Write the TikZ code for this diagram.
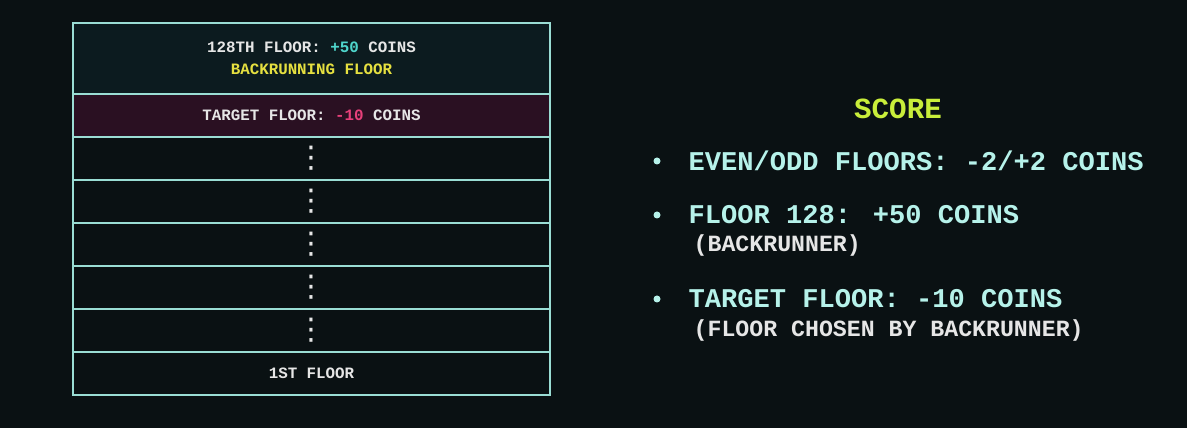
\documentclass[tikz,border=0pt]{standalone}
\usepackage{fontspec}
\setmainfont{Liberation Mono}
\newfontfamily\symfont{DejaVu Sans}
\usepackage{tikz}
\usetikzlibrary{positioning}
\definecolor{bgdark}{HTML}{0A1113}
\definecolor{rim}{HTML}{9ADDD4}
\definecolor{topfill}{HTML}{0C1B1F}
\definecolor{tgtfill}{HTML}{2A1022}
\definecolor{coin}{HTML}{4FD6CC}
\definecolor{minus}{HTML}{E8407A}
\definecolor{gold}{HTML}{E6E040}
\definecolor{lime}{HTML}{C9EE3A}
\definecolor{mint}{HTML}{B6F2EA}
\definecolor{paper}{HTML}{E6E6E6}
\newcommand{\stackdots}{{\symfont\mdseries\fontsize{8.5}{8.5}\selectfont ⋮}}

\begin{document}
\begin{tikzpicture}[x=0.01cm,y=-0.01cm,
	floor/.style={draw=rim,line width=0.6pt,minimum width=4.77cm,minimum height=0.43cm,outer sep=0pt,inner sep=0pt,text=paper,font=\bfseries\fontsize{4.5}{6.3}\selectfont},
	item/.style={anchor=west,inner sep=0pt,text=mint,font=\bfseries\fontsize{7.7}{9}\selectfont},
	note/.style={anchor=west,inner sep=0pt,text=paper,font=\bfseries\fontsize{6.6}{8}\selectfont},
	bullet/.style={circle,fill=mint,inner sep=0pt,minimum size=0.07cm}]

	\fill[bgdark] (0,0) rectangle (1187,428);
	\useasboundingbox (0,0) rectangle (1187,428);

	\node[floor,minimum height=0.71cm,fill=topfill,align=center] (f128) at (311.5,58.5)
		{128TH FLOOR: \textcolor{coin}{+50} COINS\\ \textcolor{gold}{BACKRUNNING FLOOR}};
	\node[floor,fill=tgtfill,below=0pt of f128] (target) {TARGET FLOOR: \textcolor{minus}{-10} COINS};
	\node[floor,below=0pt of target] (gapA) {\stackdots};
	\node[floor,below=0pt of gapA] (gapB) {\stackdots};
	\node[floor,below=0pt of gapB] (gapC) {\stackdots};
	\node[floor,below=0pt of gapC] (gapD) {\stackdots};
	\node[floor,below=0pt of gapD] (gapE) {\stackdots};
	\node[floor,below=0pt of gapE] (f1) {1ST FLOOR};

	\node[text=lime,font=\bfseries\fontsize{8.3}{10}\selectfont] (score) at (898,109) {SCORE};

	\node[bullet] (bulA) at (657,161) {};
	\node[item] (evenodd) at (688,161) {EVEN/ODD FLOORS: -2/+2 COINS};
	\node[bullet] (bulB) at (657,215) {};
	\node[item] (top) at (688,215) {FLOOR 128: +50 COINS};
	\node[note] (topnote) at (693,246) {(BACKRUNNER)};
	\node[bullet] (bulC) at (657,299) {};
	\node[item] (tgt) at (688,299) {TARGET FLOOR: -10 COINS};
	\node[note] (tgtnote) at (693,331) {(FLOOR CHOSEN BY BACKRUNNER)};

\end{tikzpicture}
\end{document}
